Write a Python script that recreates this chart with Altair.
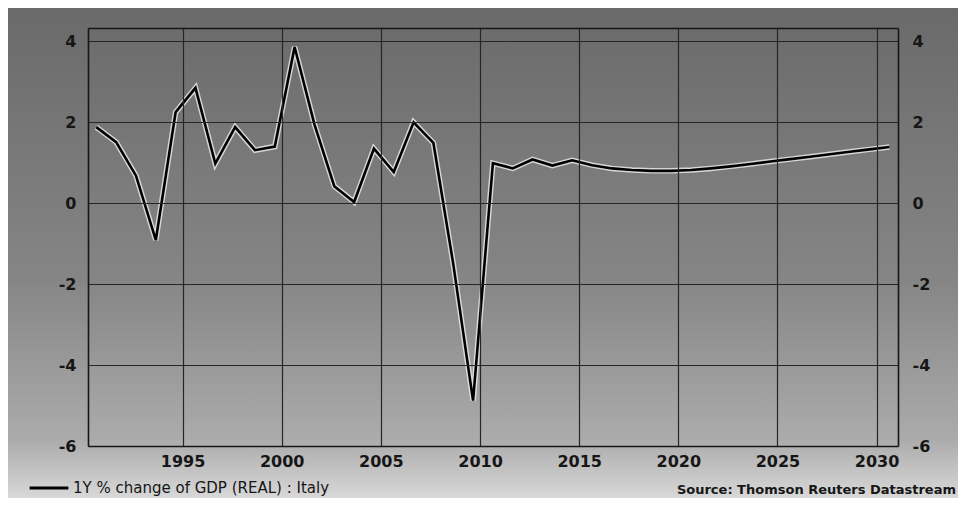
import altair as alt
import pandas as pd

# Annual real GDP growth, Italy (1Y % change)
years = list(range(1990, 2031))
growth = [
    1.88, 1.51, 0.68, -0.91, 2.25, 2.85, 0.98, 1.88, 1.31, 1.40,
    3.86, 1.95, 0.42, 0.03, 1.35, 0.77, 2.00, 1.49, -1.50, -4.88,
    0.99, 0.86, 1.08, 0.93, 1.06, 0.94, 0.86, 0.82, 0.80, 0.80,
    0.82, 0.86, 0.91, 0.97, 1.03, 1.09, 1.15, 1.21, 1.27, 1.33,
    1.39,
]
series_name = "1Y % change of GDP (REAL) : Italy"
x_ticks = [1995, 2000, 2005, 2010, 2015, 2020, 2025, 2030]
y_ticks = [-6, -4, -2, 0, 2, 4]
source_text = "Source: Thomson Reuters Datastream"

df = pd.DataFrame({"year": years, "growth": growth, "series": series_name})

W, H = 810, 418
FONT = "DejaVu Sans"
INK = "#161616"
YLABEL = "datum.value < 0 ? '-' + abs(datum.value) : '' + datum.value"

x_scale = alt.Scale(domain=[1990.23, 2031.08], nice=False, zero=False)
y_scale = alt.Scale(domain=[-6, 4.33], nice=False, zero=False)

base = alt.Chart(df).transform_calculate(xpos="datum.year + 0.65")

bg = alt.Chart(alt.Data(values=[{}])).mark_rect(
    color=alt.LinearGradient(
        gradient="linear",
        stops=[
            alt.GradientStop(offset=0, color="#6a6a6a"),
            alt.GradientStop(offset=0.55, color="#858585"),
            alt.GradientStop(offset=0.88, color="#ababab"),
            alt.GradientStop(offset=1, color="#d8d8d8"),
        ],
        x1=0, x2=0, y1=0, y2=1,
    )
).encode(
    x=alt.value(-80), x2=alt.value(W + 60),
    y=alt.value(-20), y2=alt.value(H + 52),
)

axis_common = dict(title=None, ticks=False, domain=True, domainColor=INK,
                   domainWidth=1.6, zindex=1, labelFont=FONT, labelFontSize=16,
                   labelFontWeight="bold", labelColor=INK)

halo = base.mark_line(color="#e8e8e8", strokeWidth=5.5, opacity=0.85).encode(
    x=alt.X("xpos:Q", scale=x_scale,
            axis=alt.Axis(values=x_ticks, format="d", grid=True, labelPadding=7,
                          gridColor="#262626", gridWidth=1.2, **axis_common)),
    y=alt.Y("growth:Q", scale=y_scale,
            axis=alt.Axis(values=y_ticks, orient="left", grid=True, labelPadding=12,
                          labelExpr=YLABEL,
                          gridColor="#262626", gridWidth=1.2, **axis_common)),
)

line = base.mark_line(strokeWidth=2.6).encode(
    x=alt.X("xpos:Q", scale=x_scale,
            axis=alt.Axis(orient="top", labels=False, grid=False, values=x_ticks,
                          **axis_common)),
    y=alt.Y("growth:Q", scale=y_scale,
            axis=alt.Axis(values=y_ticks, orient="right", grid=False,
                          labelPadding=14, labelExpr=YLABEL, **axis_common)),
    color=alt.Color("series:N",
                    scale=alt.Scale(range=["#000000"]),
                    legend=alt.Legend(title=None, orient="none",
                                      legendX=-60, legendY=439,
                                      symbolType="stroke", symbolSize=1500,
                                      symbolStrokeWidth=3, padding=0,
                                      labelFont=FONT, labelFontSize=15,
                                      labelLimit=500,
                                      labelColor=INK, labelOffset=3)),
)

source = alt.Chart(alt.Data(values=[{"t": source_text}])).mark_text(
    align="right", baseline="bottom", font=FONT, fontSize=13, fontWeight="bold",
    color=INK,
).encode(
    text="t:N", x=alt.value(W + 58), y=alt.value(H + 51),
)

chart = alt.layer(bg, halo, line, source).resolve_axis(
    x="independent", y="independent"
).properties(
    width=W, height=H,
    autosize=alt.AutoSizeParams(type="none"),
    padding={"left": 80, "top": 20, "right": 60, "bottom": 52},
    background="#8a8a8a",
).configure_view(
    stroke=None,
)

chart.save("out.html", embed_options={"renderer": "svg", "actions": False})
